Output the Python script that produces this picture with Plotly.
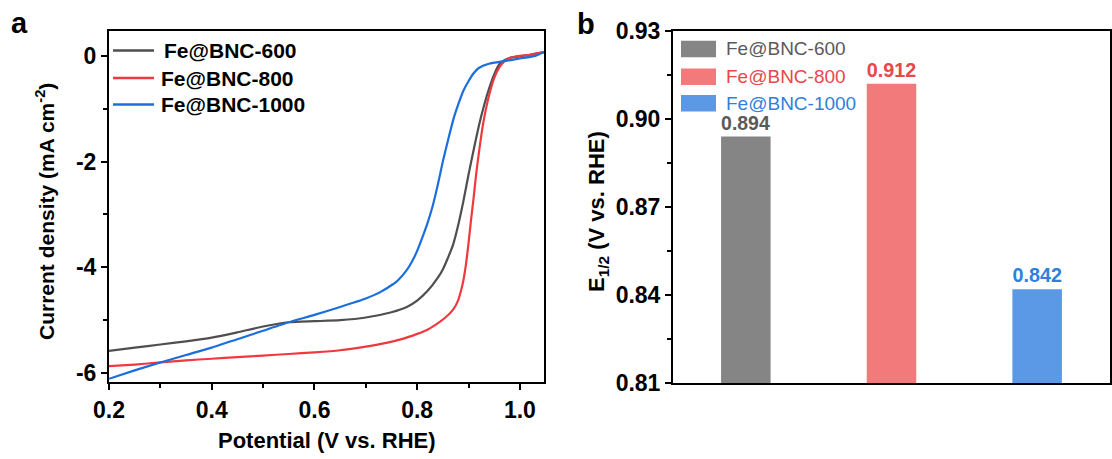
import plotly.graph_objects as go

# ---------------- data ----------------
samples = ["Fe@BNC-600", "Fe@BNC-800", "Fe@BNC-1000"]

potential_600 = [0.20, 0.25, 0.30, 0.35, 0.40, 0.45, 0.50, 0.55, 0.60, 0.65, 0.70, 0.75,
                 0.78, 0.80, 0.82, 0.84, 0.85, 0.86, 0.87, 0.88, 0.89, 0.90, 0.91, 0.92,
                 0.93, 0.94, 0.95, 0.96, 0.97, 0.98, 1.00, 1.02, 1.047]
current_600 = [-5.58, -5.52, -5.46, -5.40, -5.33, -5.23, -5.12, -5.04, -5.02, -5.00, -4.95, -4.85,
               -4.75, -4.63, -4.45, -4.20, -4.04, -3.82, -3.57, -3.20, -2.75, -2.25, -1.78, -1.33,
               -0.95, -0.62, -0.35, -0.16, -0.08, -0.04, -0.01, 0.02, 0.07]

potential_800 = [0.20, 0.25, 0.30, 0.35, 0.40, 0.45, 0.50, 0.55, 0.60, 0.65, 0.70, 0.74,
                 0.77, 0.80, 0.82, 0.84, 0.855, 0.87, 0.88, 0.886, 0.89, 0.895, 0.90, 0.905,
                 0.91, 0.915, 0.92, 0.925, 0.93, 0.94, 0.95, 0.96, 0.97, 0.98, 1.00, 1.02, 1.047]
current_800 = [-5.87, -5.84, -5.80, -5.76, -5.73, -5.70, -5.67, -5.64, -5.61, -5.57, -5.50, -5.43,
               -5.36, -5.26, -5.18, -5.06, -4.95, -4.80, -4.62, -4.42, -4.25, -3.95, -3.55, -3.10,
               -2.68, -2.23, -1.85, -1.50, -1.20, -0.75, -0.42, -0.22, -0.10, -0.04, 0.00, 0.02, 0.07]

potential_1000 = [0.20, 0.25, 0.30, 0.35, 0.40, 0.45, 0.50, 0.55, 0.60, 0.65, 0.70, 0.73,
                  0.76, 0.78, 0.79, 0.80, 0.81, 0.82, 0.83, 0.84, 0.85, 0.86, 0.87, 0.88,
                  0.89, 0.90, 0.91, 0.92, 0.94, 0.97, 1.00, 1.03, 1.047]
current_1000 = [-6.11, -5.95, -5.80, -5.66, -5.52, -5.36, -5.20, -5.04, -4.90, -4.75, -4.59, -4.46,
                -4.27, -4.05, -3.89, -3.69, -3.44, -3.17, -2.85, -2.45, -2.00, -1.60, -1.22, -0.92,
                -0.66, -0.48, -0.33, -0.23, -0.15, -0.10, -0.05, 0.00, 0.07]

e_half = [0.894, 0.912, 0.842]

x_ticks_a = [0.2, 0.4, 0.6, 0.8, 1.0]
x_ticktext_a = ["0.2", "0.4", "0.6", "0.8", "1.0"]
y_ticks_a = [-6, -4, -2, 0]
y_ticktext_a = ["-6", "-4", "-2", "0"]
y_ticks_b = [0.81, 0.84, 0.87, 0.90, 0.93]
y_ticktext_b = ["0.81", "0.84", "0.87", "0.90", "0.93"]

# ---------------- styles ----------------
W, H = 1112, 459
line_colors = ["#4f4f4f", "#f0383e", "#1b6fdc"]
bar_colors = ["#858585", "#f27a7a", "#5b98e6"]
label_colors = ["#5a5a5a", "#e8474c", "#2e7fe0"]
FONT = "Arial, Liberation Sans, sans-serif"


def px(x):
    return x / W


def py(y):
    return 1 - y / H


fig = go.Figure()

lsv = [(potential_600, current_600), (potential_800, current_800), (potential_1000, current_1000)]
for name, (v, j), c in zip(samples, lsv, line_colors):
    fig.add_trace(go.Scatter(x=v, y=j, mode="lines", name=name, showlegend=False,
                             line=dict(color=c, width=2.2, shape="spline", smoothing=0.5),
                             xaxis="x", yaxis="y"))

fig.add_trace(go.Bar(x=samples, y=e_half, width=0.34, showlegend=False,
                     marker=dict(color=bar_colors, line=dict(width=0)),
                     text=[f"{v:.3f}" for v in e_half], textposition="outside",
                     textfont=dict(color=label_colors, size=20, family=FONT, weight="bold"),
                     cliponaxis=False, xaxis="x2", yaxis="y2"))

axis_common = dict(showline=True, linecolor="black", linewidth=2, mirror=True,
                   ticks="outside", tickwidth=2, ticklen=6, tickcolor="black",
                   showgrid=False, zeroline=False, automargin=False,
                   tickfont=dict(family=FONT, size=23, color="black", weight="bold"))

fig.update_layout(
    width=W, height=H,
    margin=dict(l=0, r=0, t=0, b=0, pad=0, autoexpand=False),
    paper_bgcolor="white", plot_bgcolor="white",
    font=dict(family=FONT, color="black"),
    xaxis=dict(domain=[px(109), px(544)], range=[0.2, 1.047], tickvals=x_ticks_a,
               ticktext=x_ticktext_a, anchor="y",
               minor=dict(ticks="outside", ticklen=4, tickwidth=1.5, dtick=0.1, tick0=0.1),
               **axis_common),
    yaxis=dict(domain=[py(382), py(31)], range=[-6.17, 0.47], tickvals=y_ticks_a,
               ticktext=y_ticktext_a, anchor="x",
               minor=dict(ticks="outside", ticklen=4, tickwidth=1.5, dtick=1, tick0=-1),
               **axis_common),
    xaxis2=dict(domain=[px(673), px(1110)], range=[-0.5, 2.5], anchor="y2",
                showline=True, linecolor="black", linewidth=2, mirror=True, automargin=False,
                showticklabels=False, ticks="", showgrid=False, zeroline=False),
    yaxis2=dict(domain=[py(383), py(31)], range=[0.81, 0.93], tickvals=y_ticks_b,
                ticktext=y_ticktext_b, anchor="x2",
                minor=dict(ticks="outside", ticklen=4, tickwidth=1.5, dtick=0.03, tick0=0.825),
                **axis_common),
)

annotations = []
shapes = []

# panel labels
annotations.append(dict(x=px(19), y=py(23), xref="paper", yref="paper", text="a",
                        showarrow=False, xanchor="center", yanchor="middle",
                        font=dict(size=29, family=FONT, weight="bold", color="black")))
annotations.append(dict(x=px(586), y=py(24), xref="paper", yref="paper", text="b",
                        showarrow=False, xanchor="center", yanchor="middle",
                        font=dict(size=29, family=FONT, weight="bold", color="black")))

# axis titles
annotations.append(dict(x=px(45), y=py(212), xref="paper", yref="paper",
                        text="Current density (mA cm<sup>-2</sup>)", textangle=-90,
                        showarrow=False, xanchor="center", yanchor="middle",
                        font=dict(size=21, family=FONT, weight="bold", color="black")))
annotations.append(dict(x=px(327), y=py(440), xref="paper", yref="paper",
                        text="Potential (V vs. RHE)",
                        showarrow=False, xanchor="center", yanchor="middle",
                        font=dict(size=22, family=FONT, weight="bold", color="black")))
annotations.append(dict(x=px(598), y=py(212), xref="paper", yref="paper",
                        text="E<sub>1/2</sub> (V vs. RHE)", textangle=-90,
                        showarrow=False, xanchor="center", yanchor="middle",
                        font=dict(size=22, family=FONT, weight="bold", color="black")))

# legend for panel a
rows_a = [50.5, 78, 104.5]
text_x_a = [162, 159, 159]
for name, c, yy, tx in zip(samples, line_colors, rows_a, text_x_a):
    shapes.append(dict(type="line", xref="paper", yref="paper", x0=px(113), x1=px(154),
                       y0=py(yy), y1=py(yy), line=dict(color=c, width=2.5)))
    annotations.append(dict(x=px(tx), y=py(yy), xref="paper", yref="paper", text=name,
                            showarrow=False, xanchor="left", yanchor="middle",
                            font=dict(size=21, family=FONT, weight="bold", color="black")))

# legend for panel b
rows_b = [49, 76.7, 103.3]
for name, c, tc, yy in zip(samples, bar_colors, label_colors, rows_b):
    shapes.append(dict(type="rect", xref="paper", yref="paper", x0=px(681), x1=px(716),
                       y0=py(yy - 8.3), y1=py(yy + 8.3), fillcolor=c, line=dict(width=0)))
    annotations.append(dict(x=px(724), y=py(yy), xref="paper", yref="paper", text=name,
                            showarrow=False, xanchor="left", yanchor="middle",
                            font=dict(size=19, family=FONT, color=tc, weight=500)))

fig.update_layout(annotations=annotations, shapes=shapes)

fig.write_html("out.html", config={"displayModeBar": False},
               post_script="document.body.style.margin='0';document.body.style.overflow='hidden';")
